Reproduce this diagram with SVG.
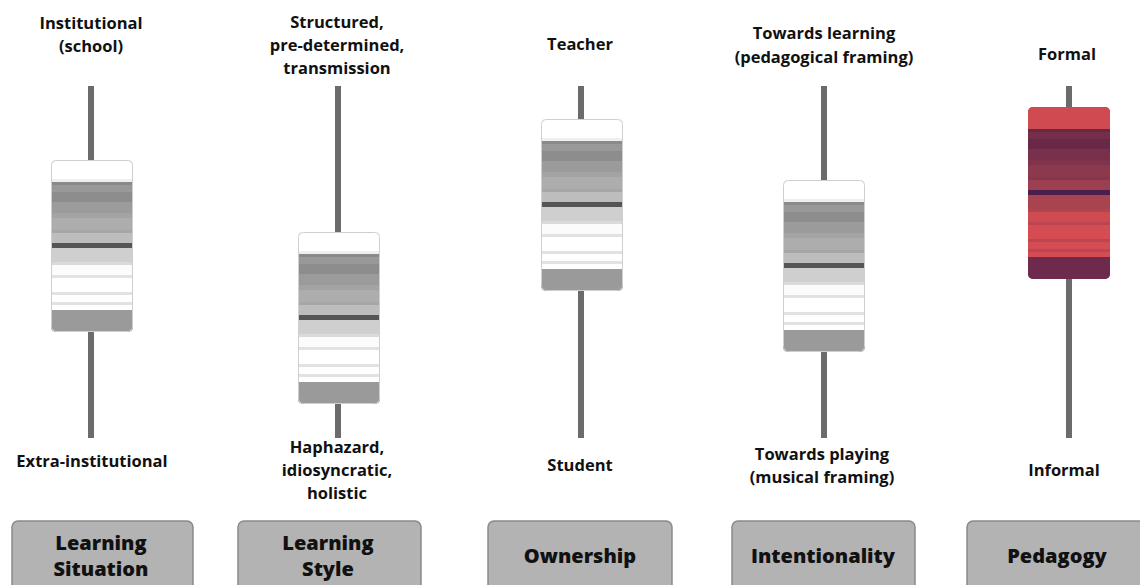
<svg xmlns="http://www.w3.org/2000/svg" xmlns:xlink="http://www.w3.org/1999/xlink" width="1140" height="585" viewBox="0 0 1140 585">
<style>
.lbl{font-family:"Open Sans","Liberation Sans",sans-serif;font-weight:700;font-size:16.5px;fill:#111;text-anchor:middle}
.cat{font-family:"Open Sans","Liberation Sans",sans-serif;font-weight:800;font-size:20px;fill:#111;text-anchor:middle}
.track{stroke:#6b6b6b;stroke-width:6;fill:none}
.catbox{fill:#b3b3b3;stroke:#8a8a8a;stroke-width:1.5}
.b rect{shape-rendering:crispEdges}
</style>
<defs>
<clipPath id="boxclip"><rect x="0" y="0" width="82" height="172" rx="5"/></clipPath>
<g id="greybands" clip-path="url(#boxclip)">
<rect x="0" y="0" width="82" height="172" fill="#b0b0b0"/>
<g class="b">
<rect x="0" y="0" width="82" height="23" fill="#ffffff"/>
<rect x="0" y="19" width="82" height="4" fill="#efefef"/>
<rect x="0" y="22" width="82" height="4" fill="#8a8a8a"/>
<rect x="0" y="25" width="82" height="8" fill="#999999"/>
<rect x="0" y="32" width="82" height="11" fill="#8d8d8d"/>
<rect x="0" y="42" width="82" height="12" fill="#9b9b9b"/>
<rect x="0" y="53" width="82" height="6" fill="#a3a3a3"/>
<rect x="0" y="58" width="82" height="13" fill="#adadad"/>
<rect x="0" y="70" width="82" height="4" fill="#a6a6a6"/>
<rect x="0" y="73" width="82" height="11" fill="#bdbdbd"/>
<rect x="0" y="83" width="82" height="6" fill="#555555"/>
<rect x="0" y="88" width="82" height="15" fill="#cfcfcf"/>
<rect x="0" y="102" width="82" height="4" fill="#dadada"/>
<rect x="0" y="105" width="82" height="11" fill="#fbfbfb"/>
<rect x="0" y="115" width="82" height="4" fill="#e2e2e2"/>
<rect x="0" y="118" width="82" height="15" fill="#ffffff"/>
<rect x="0" y="132" width="82" height="4" fill="#e2e2e2"/>
<rect x="0" y="135" width="82" height="8" fill="#ffffff"/>
<rect x="0" y="142" width="82" height="4" fill="#e2e2e2"/>
<rect x="0" y="145" width="82" height="6" fill="#ffffff"/>
<rect x="0" y="150" width="82" height="22" fill="#9a9a9a"/>
</g>
<rect x="0.5" y="0.5" width="81" height="171" rx="5" fill="none" stroke="#cfcfcf" stroke-width="1"/>
</g>
<g id="redbands" clip-path="url(#boxclip)">
<rect x="0" y="0" width="82" height="172" fill="#8c394e"/>
<g class="b">
<rect x="0" y="0" width="82" height="23" fill="#cf4a51"/>
<rect x="0" y="22" width="82" height="4" fill="#682747"/>
<rect x="0" y="25" width="82" height="8" fill="#732e4a"/>
<rect x="0" y="32" width="82" height="11" fill="#6a2848"/>
<rect x="0" y="42" width="82" height="12" fill="#79304b"/>
<rect x="0" y="53" width="82" height="6" fill="#80334c"/>
<rect x="0" y="58" width="82" height="13" fill="#8c394e"/>
<rect x="0" y="70" width="82" height="4" fill="#87374d"/>
<rect x="0" y="73" width="82" height="11" fill="#9c3f50"/>
<rect x="0" y="83" width="82" height="6" fill="#4a1f4d"/>
<rect x="0" y="88" width="82" height="15" fill="#a84350"/>
<rect x="0" y="102" width="82" height="4" fill="#b04551"/>
<rect x="0" y="105" width="82" height="11" fill="#cf4a51"/>
<rect x="0" y="115" width="82" height="4" fill="#bb4651"/>
<rect x="0" y="118" width="82" height="15" fill="#d54c52"/>
<rect x="0" y="132" width="82" height="4" fill="#bb4651"/>
<rect x="0" y="135" width="82" height="8" fill="#d54c52"/>
<rect x="0" y="142" width="82" height="4" fill="#bb4651"/>
<rect x="0" y="145" width="82" height="6" fill="#d54c52"/>
<rect x="0" y="150" width="82" height="22" fill="#6e2a4c"/>
</g>
</g>
</defs>
<rect x="0" y="0" width="1140" height="585" fill="#ffffff"/>
<g id="tracks">
<line class="track" x1="91" y1="86" x2="91" y2="438"/>
<line class="track" x1="338" y1="86" x2="338" y2="438"/>
<line class="track" x1="581" y1="86" x2="581" y2="438"/>
<line class="track" x1="824" y1="86" x2="824" y2="438"/>
<line class="track" x1="1069" y1="86" x2="1069" y2="438"/>
</g>
<g id="slider-situation">
<use xlink:href="#greybands" href="#greybands" x="51" y="160"/>
<text class="lbl" x="91" y="29">Institutional</text>
<text class="lbl" x="91" y="52">(school)</text>
<text class="lbl" x="92" y="467">Extra-institutional</text>
</g>
<g id="slider-style">
<use xlink:href="#greybands" href="#greybands" x="298" y="232"/>
<text class="lbl" x="337" y="28">Structured,</text>
<text class="lbl" x="337" y="51">pre-determined,</text>
<text class="lbl" x="337" y="74">transmission</text>
<text class="lbl" x="337" y="453">Haphazard,</text>
<text class="lbl" x="337" y="476">idiosyncratic,</text>
<text class="lbl" x="337" y="499">holistic</text>
</g>
<g id="slider-ownership">
<use xlink:href="#greybands" href="#greybands" x="541" y="119"/>
<text class="lbl" x="580" y="50">Teacher</text>
<text class="lbl" x="580" y="471">Student</text>
</g>
<g id="slider-intentionality">
<use xlink:href="#greybands" href="#greybands" x="783" y="180"/>
<text class="lbl" x="824" y="39">Towards learning</text>
<text class="lbl" x="824" y="63">(pedagogical framing)</text>
<text class="lbl" x="822" y="460">Towards playing</text>
<text class="lbl" x="822" y="483">(musical framing)</text>
</g>
<g id="slider-pedagogy">
<use xlink:href="#redbands" href="#redbands" x="1028" y="107"/>
<text class="lbl" x="1067" y="60">Formal</text>
<text class="lbl" x="1064" y="476">Informal</text>
</g>
<g id="cat-situation">
<rect class="catbox" x="12" y="521" width="181" height="80" rx="6"/>
<text class="cat" x="101" y="550">Learning</text>
<text class="cat" x="101" y="576">Situation</text>
</g>
<g id="cat-style">
<rect class="catbox" x="238" y="521" width="183" height="80" rx="6"/>
<text class="cat" x="328" y="550">Learning</text>
<text class="cat" x="328" y="576">Style</text>
</g>
<g id="cat-ownership">
<rect class="catbox" x="488" y="521" width="184" height="80" rx="6"/>
<text class="cat" x="580" y="563">Ownership</text>
</g>
<g id="cat-intentionality">
<rect class="catbox" x="732" y="521" width="183" height="80" rx="6"/>
<text class="cat" x="823" y="563">Intentionality</text>
</g>
<g id="cat-pedagogy">
<rect class="catbox" x="967" y="521" width="181" height="80" rx="6"/>
<text class="cat" x="1057" y="563">Pedagogy</text>
</g>
</svg>
